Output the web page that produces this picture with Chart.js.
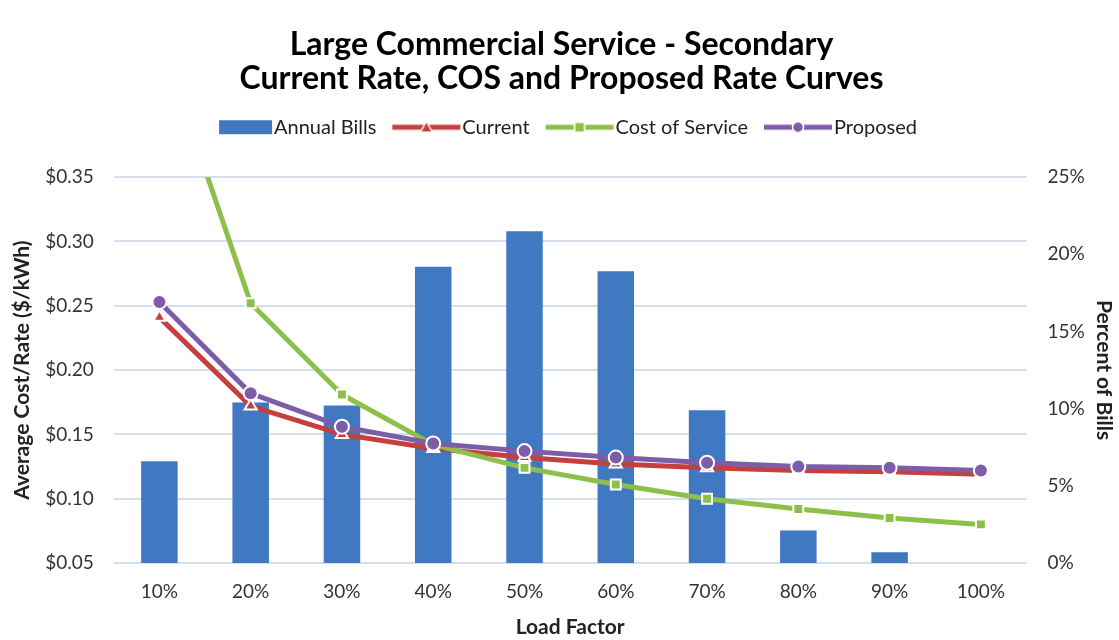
<!DOCTYPE html>
<html lang="en">
<head>
  <meta charset="UTF-8" />
  <title>Large Commercial Service - Secondary</title>
  <script src="https://cdn.jsdelivr.net/npm/chart.js"></script>
  <style>
    html, body {
      margin: 0;
      padding: 0;
      background: #fff;
    }
    #wrap {
      width: 1119px;
      height: 640px;
    }
  </style>
</head>
<body>
  <div id="wrap"><canvas id="rateChart"></canvas></div>

  <script>
    // values
    const loadFactors = ['10%', '20%', '30%', '40%', '50%', '60%', '70%', '80%', '90%', '100%'];
    const annualBills = [6.6, 10.4, 10.2, 19.2, 21.5, 18.9, 9.9, 2.1, 0.7, 0];
    const currentRate = [0.241, 0.172, 0.150, 0.139, 0.132, 0.127, 0.124, 0.122, 0.121, 0.119];
    const costOfService = [0.46, 0.252, 0.181, 0.142, 0.124, 0.111, 0.100, 0.092, 0.085, 0.080];
    const proposedRate = [0.253, 0.182, 0.156, 0.143, 0.137, 0.132, 0.128, 0.125, 0.124, 0.122];

    const titleLines = ['Large Commercial Service - Secondary', 'Current Rate, COS and Proposed Rate Curves'];

    const blue = '#4079c2';
    const red = '#c43f3d';
    const green = '#8dc04a';
    const purple = '#7d5ca8';
    const font = 'Lato, "DejaVu Sans", sans-serif';

    // legend swatch: canvas is centred on the legend box, so it is padded
    // by 10px each side and the drawing is pushed up against the text
    function swatch(color, style, isBar) {
      const w = 78, h = 16;
      const c = document.createElement('canvas');
      c.width = w; c.height = h;
      const g = c.getContext('2d');
      if (isBar) {
        g.fillStyle = color;
        g.fillRect(23, 1, 53, 14);
        return c;
      }
      g.strokeStyle = color;
      g.lineWidth = 5;
      g.beginPath();
      g.moveTo(8, h / 2);
      g.lineTo(76, h / 2);
      g.stroke();
      const cx = 42, cy = h / 2;
      g.fillStyle = color;
      g.beginPath();
      if (style === 'triangle') {
        g.moveTo(cx, cy - 6); g.lineTo(cx + 6, cy + 5); g.lineTo(cx - 6, cy + 5); g.closePath();
      } else if (style === 'rect') {
        g.rect(cx - 5, cy - 5, 10, 10);
      } else {
        g.arc(cx, cy, 5.5, 0, Math.PI * 2);
      }
      g.fill();
      g.strokeStyle = '#fff';
      g.lineWidth = 1.5;
      g.stroke();
      return c;
    }

    // extra room between the legend and the plot
    const legendGap = {
      id: 'legendGap',
      beforeInit(chart) {
        const fit = chart.legend.fit;
        chart.legend.fit = function () {
          fit.bind(chart.legend)();
          this.height += 30;
        };
      }
    };

    const ctx = document.getElementById('rateChart').getContext('2d');
    new Chart(ctx, {
      data: {
        labels: loadFactors,
        datasets: [{
          type: 'bar',
          label: 'Annual Bills',
          data: annualBills,
          yAxisID: 'yBills',
          backgroundColor: blue,
          categoryPercentage: 0.8,
          barPercentage: 0.5,
          order: 4
        }, {
          type: 'line',
          label: 'Current',
          data: currentRate,
          yAxisID: 'yRate',
          borderColor: red,
          backgroundColor: red,
          borderWidth: 5,
          pointStyle: 'triangle',
          pointRadius: 7,
          pointBorderColor: '#fff',
          pointBorderWidth: 2,
          order: 3
        }, {
          type: 'line',
          label: 'Cost of Service',
          data: costOfService,
          yAxisID: 'yRate',
          borderColor: green,
          backgroundColor: green,
          borderWidth: 5,
          pointStyle: 'rect',
          pointRadius: 7,
          pointBorderColor: '#fff',
          pointBorderWidth: 2,
          order: 2
        }, {
          type: 'line',
          label: 'Proposed',
          data: proposedRate,
          yAxisID: 'yRate',
          borderColor: purple,
          backgroundColor: purple,
          borderWidth: 5,
          pointStyle: 'circle',
          pointRadius: 7,
          pointBorderColor: '#fff',
          pointBorderWidth: 2,
          order: 1
        }]
      },
      plugins: [legendGap],
      options: {
        responsive: true,
        maintainAspectRatio: false,
        animation: false,
        layout: {
          padding: { left: 4, right: 0, top: 28, bottom: 0 }
        },
        plugins: {
          title: {
            display: true,
            text: titleLines,
            color: '#000',
            font: { family: font, size: 32, weight: 'bold', lineHeight: 1.05 },
            padding: { top: 0, bottom: 4 }
          },
          legend: {
            position: 'top',
            labels: {
              color: '#222',
              font: { family: font, size: 20 },
              usePointStyle: true,
              pointStyleWidth: 58,
              padding: 18,
              generateLabels(chart) {
                const items = Chart.defaults.plugins.legend.labels.generateLabels(chart);
                items.sort((a, b) => a.datasetIndex - b.datasetIndex);
                const styles = ['bar', 'triangle', 'rect', 'circle'];
                const colors = [blue, red, green, purple];
                items.forEach(it => {
                  const i = it.datasetIndex;
                  it.pointStyle = swatch(colors[i], styles[i], i === 0);
                });
                return items;
              }
            }
          },
          tooltip: { enabled: false }
        },
        scales: {
          x: {
            grid: { display: false, drawTicks: false },
            border: { display: false },
            ticks: {
              color: '#333',
              font: { family: font, size: 19 },
              padding: 17
            },
            title: {
              display: true,
              text: 'Load Factor',
              color: '#222',
              font: { family: font, size: 21, weight: 'bold' },
              padding: { top: -5, bottom: 0 }
            }
          },
          yRate: {
            type: 'linear',
            position: 'left',
            min: 0.05,
            max: 0.35,
            border: { display: false },
            grid: {
              color: '#d3dfef',
              lineWidth: 2,
              drawTicks: false
            },
            ticks: {
              stepSize: 0.05,
              color: '#333',
              font: { family: font, size: 19 },
              padding: 20,
              callback: v => '$' + v.toFixed(2)
            },
            title: {
              display: true,
              text: 'Average Cost/Rate ($/kWh)',
              color: '#222',
              font: { family: font, size: 21, weight: 'bold' },
              padding: { top: 6, bottom: -10 }
            }
          },
          yBills: {
            type: 'linear',
            position: 'right',
            min: 0,
            max: 25,
            border: { display: false },
            grid: { display: false, drawTicks: false },
            ticks: {
              stepSize: 5,
              color: '#333',
              font: { family: font, size: 19 },
              padding: 21,
              callback: v => v + '%'
            },
            title: {
              display: true,
              text: 'Percent of Bills',
              color: '#222',
              font: { family: font, size: 21, weight: 'bold' },
              padding: { top: 3, bottom: -15 }
            }
          }
        }
      }
    });
  </script>
</body>
</html>
